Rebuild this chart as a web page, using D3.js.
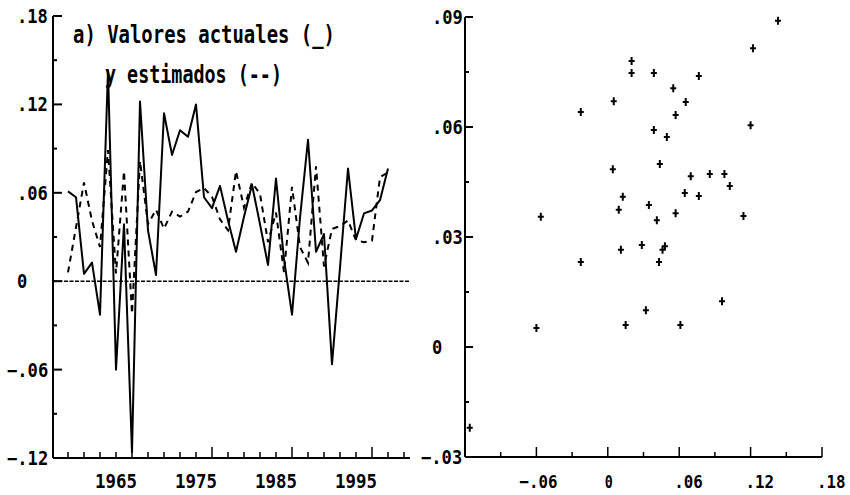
<!DOCTYPE html>
<html>
<head>
<meta charset="utf-8">
<script src="https://cdn.jsdelivr.net/npm/d3@7/dist/d3.min.js"></script>
<style>
  body { margin: 0; background: #fff; }
  text { font-family: "DejaVu Sans Mono", monospace; font-weight: bold; fill: #000; }
</style>
</head>
<body>
<div id="chart"></div>
<script>
// datos anuales 1959-1999
const firstYear = 1959;
const actual = [
  0.061, 0.057, 0.005, 0.0126, -0.0227, 0.143, -0.060, 0.0387, -0.116, 0.122,
  0.0345, 0.0042, 0.114, 0.0857, 0.1025, 0.098, 0.120, 0.057, 0.0496, 0.0647,
  0.0412, 0.020, 0.0437, 0.0655, 0.0387, 0.011, 0.0697, 0.015, -0.0227, 0.043,
  0.096, 0.020, 0.032, -0.0563, 0.0092, 0.0765, 0.0286, 0.046, 0.048, 0.055,
  0.0765
];
const estimated = [
  0.006, 0.0365, 0.067, 0.041, 0.0232, 0.089, 0.0052, 0.0747, -0.022, 0.0815,
  0.0387, 0.0485, 0.0357, 0.0472, 0.0439, 0.0472, 0.0605, 0.0633, 0.0573, 0.042,
  0.0346, 0.0747, 0.0499, 0.0668, 0.0592, 0.0265, 0.0466, 0.006, 0.0641, 0.0232,
  0.0125, 0.078, 0.010, 0.0355, 0.0374, 0.0412, 0.0278, 0.0265, 0.0275, 0.0706,
  0.0739
];
const titleLines = ["a) Valores actuales (_)", "y estimados (--)"];
const yTicksLeft = [-0.12, -0.06, 0, 0.06, 0.12, 0.18];
const yearLabels = [1965, 1975, 1985, 1995];
const yTicksRight = [-0.03, 0, 0.03, 0.06, 0.09];
const xTicksRight = [-0.06, 0, 0.06, 0.12, 0.18];

const years = actual.map((d, i) => firstYear + i);
const fmt = (d) => (d === 0 ? "0" : d3.format(".2f")(d).replace("0.", "."));

const svg = d3.select("#chart").append("svg")
  .attr("width", 850)
  .attr("height", 495);

// ---------- panel izquierdo: serie de tiempo ----------
const xL = d3.scaleLinear().domain([1957, 2002]).range([52, 412]);
const yL = d3.scaleLinear().domain([-0.12, 0.18]).range([458, 16]);
const left = svg.append("g");

left.append("line")
  .attr("x1", 53).attr("x2", 53)
  .attr("y1", yL(0.18)).attr("y2", yL(-0.12))
  .attr("stroke", "#000").attr("stroke-width", 2);
left.append("line")
  .attr("x1", 53).attr("x2", xL(2001.75))
  .attr("y1", yL(-0.12)).attr("y2", yL(-0.12))
  .attr("stroke", "#000").attr("stroke-width", 2);

// marcas eje y (cada .03)
left.selectAll(".ytick")
  .data(d3.range(-0.12, 0.1801, 0.03))
  .join("line")
  .attr("x1", 53)
  .attr("x2", (d, i) => (i % 2 === 0 ? 62 : 57))
  .attr("y1", (d) => yL(d)).attr("y2", (d) => yL(d))
  .attr("stroke", "#000").attr("stroke-width", 2);

left.selectAll(".ylab")
  .data(yTicksLeft)
  .join("text")
  .attr("x", (d) => (d < 0 ? 7 : 17))
  .attr("y", (d) => yL(d) + 7)
  .attr("font-size", 19)
  .attr("textLength", (d) => fmt(d).length * 10.3)
  .attr("lengthAdjust", "spacingAndGlyphs")
  .text(fmt);

// marcas eje x (años impares)
left.selectAll(".xtick")
  .data(d3.range(1959, 2002, 2))
  .join("line")
  .attr("x1", (d) => xL(d)).attr("x2", (d) => xL(d))
  .attr("y1", yL(-0.12))
  .attr("y2", (d) => yL(-0.12) - ((d - 1957) % 10 === 0 ? 11 : 6))
  .attr("stroke", "#000").attr("stroke-width", 1.5);

left.selectAll(".xlab")
  .data(yearLabels)
  .join("text")
  .attr("x", (d) => xL(d))
  .attr("y", 488)
  .attr("text-anchor", "middle")
  .attr("font-size", 20)
  .attr("textLength", 42)
  .attr("lengthAdjust", "spacingAndGlyphs")
  .text((d) => d);

// línea de cero punteada
left.append("line")
  .attr("x1", 53).attr("x2", xL(2001.75))
  .attr("y1", yL(0)).attr("y2", yL(0))
  .attr("stroke", "#000").attr("stroke-width", 1.5)
  .attr("stroke-dasharray", "4,1.5");

const lineGen = d3.line()
  .x((d, i) => xL(years[i]))
  .y((d) => yL(d));

left.append("path")
  .datum(estimated)
  .attr("d", lineGen)
  .attr("fill", "none")
  .attr("stroke", "#000")
  .attr("stroke-width", 2)
  .attr("stroke-dasharray", "6,5");

left.append("path")
  .datum(actual)
  .attr("d", lineGen)
  .attr("fill", "none")
  .attr("stroke", "#000")
  .attr("stroke-width", 2)
  .attr("stroke-linejoin", "round");

// título
left.append("text")
  .attr("x", 73).attr("y", 43)
  .attr("font-size", 25)
  .attr("textLength", 262)
  .attr("lengthAdjust", "spacingAndGlyphs")
  .text(titleLines[0]);
left.append("text")
  .attr("x", 105).attr("y", 83)
  .attr("font-size", 25)
  .attr("textLength", 177)
  .attr("lengthAdjust", "spacingAndGlyphs")
  .text(titleLines[1]);

// ---------- panel derecho: dispersión actual vs estimado ----------
const xR = d3.scaleLinear().domain([-0.12, 0.18]).range([465, 822]);
const yR = d3.scaleLinear().domain([-0.03, 0.09]).range([457, 17]);
const right = svg.append("g");

right.append("line")
  .attr("x1", 465).attr("x2", 465)
  .attr("y1", yR(0.09)).attr("y2", yR(-0.03))
  .attr("stroke", "#000").attr("stroke-width", 2);
right.append("line")
  .attr("x1", 465).attr("x2", xR(0.18))
  .attr("y1", yR(-0.03)).attr("y2", yR(-0.03))
  .attr("stroke", "#000").attr("stroke-width", 2);

right.selectAll(".ytick")
  .data(d3.range(-0.03, 0.0901, 0.015))
  .join("line")
  .attr("x1", 465)
  .attr("x2", (d, i) => (i % 2 === 0 ? 473 : 469))
  .attr("y1", (d) => yR(d)).attr("y2", (d) => yR(d))
  .attr("stroke", "#000").attr("stroke-width", 2);

right.selectAll(".ylab")
  .data(yTicksRight)
  .join("text")
  .attr("x", (d) => (d < 0 ? 421 : 432))
  .attr("y", (d) => yR(d) + 7)
  .attr("font-size", 19)
  .attr("textLength", (d) => fmt(d).length * 10.3)
  .attr("lengthAdjust", "spacingAndGlyphs")
  .text(fmt);

right.selectAll(".xtick")
  .data(d3.range(-0.12, 0.1801, 0.03))
  .join("line")
  .attr("x1", (d) => xR(d)).attr("x2", (d) => xR(d))
  .attr("y1", yR(-0.03))
  .attr("y2", (d, i) => yR(-0.03) - (i % 2 === 0 ? 10 : 5))
  .attr("stroke", "#000").attr("stroke-width", 1.5);

right.selectAll(".xlab")
  .data(xTicksRight)
  .join("text")
  .attr("x", (d) => xR(d) - (d < 0 ? 17 : d === 0 ? 3 : 5))
  .attr("y", 488)
  .attr("font-size", 18)
  .attr("textLength", (d) => (d === 0 ? 8 : fmt(d).length * 9.5))
  .attr("lengthAdjust", "spacingAndGlyphs")
  .text(fmt);

right.selectAll(".pt")
  .data(actual)
  .join("path")
  .attr("d", (d, i) => {
    const px = xR(d), py = yR(estimated[i]);
    return `M${px - 3},${py}h6M${px},${py - 4}v8`;
  })
  .attr("stroke", "#000")
  .attr("stroke-width", 2)
  .attr("fill", "none");
</script>
</body>
</html>
